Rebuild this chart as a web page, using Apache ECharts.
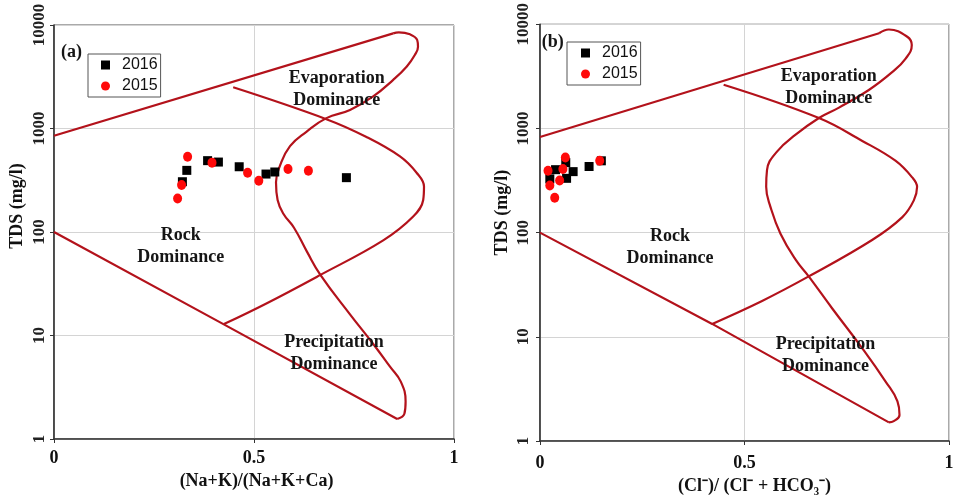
<!DOCTYPE html>
<html><head><meta charset="utf-8">
<script src="https://cdn.jsdelivr.net/npm/echarts@6/dist/echarts.min.js"></script>
<style>html,body{margin:0;padding:0;background:#fff}#c{width:959px;height:500px}</style>
</head><body><div id="c"></div>
<script>
// ---------- axis ticks ----------
const xMin = 0, xMax = 1, xInterval = 0.5;
const yMin = 1, yMax = 10000;

// ---------- panel (a): Gibbs boundary, [x, TDS] ----------
const aUpperLine = [[0, 850], [0.848, 8300]];
const aLoop = [[0.848, 8300], [0.862, 8500], [0.89, 8130], [0.908, 7160], [0.91, 6170], [0.902, 5130],
  [0.882, 3980], [0.848, 2950], [0.798, 2040], [0.74, 1510], [0.681, 1260], [0.631, 930], [0.59, 676],
  [0.565, 437], [0.555, 302], [0.559, 204], [0.573, 151], [0.60, 110], [0.632, 65], [0.666, 38.5],
  [0.74, 16], [0.80, 8.1], [0.84, 5.0], [0.867, 3.58], [0.879, 2.3], [0.876, 1.75], [0.858, 1.56]];
const aLowerLine = [[0, 100], [0.42, 13.1], [0.858, 1.56]];
const aInner = [[0.448, 2500], [0.681, 1230], [0.78, 832], [0.865, 537], [0.907, 372], [0.925, 275],
  [0.923, 204], [0.898, 141], [0.823, 83], [0.666, 38.5], [0.531, 20.4], [0.425, 12.9]];
const a2016 = [[0.332, 394], [0.321, 306], [0.384, 489], [0.411, 474], [0.463, 427], [0.530, 363], [0.552, 380], [0.731, 335]];
const a2015 = [[0.334, 534], [0.319, 284], [0.309, 211], [0.395, 468], [0.484, 374], [0.512, 313], [0.585, 406], [0.636, 391]];

// ---------- panel (b) ----------
const bUpperLine = [[0, 828], [0.829, 8200]];
const bLoop = [[0.829, 8200], [0.853, 8900], [0.898, 7590], [0.909, 6310], [0.894, 4680], [0.861, 3470],
  [0.804, 2340], [0.731, 1585], [0.682, 1260], [0.625, 871], [0.58, 603], [0.555, 398], [0.553, 275],
  [0.564, 174], [0.588, 97.7], [0.625, 55], [0.657, 38], [0.715, 18.6], [0.788, 7.76], [0.845, 3.72],
  [0.874, 2.4], [0.879, 1.78], [0.865, 1.55], [0.853, 1.51]];
const bLowerLine = [[0, 100], [0.421, 13.3], [0.853, 1.51]];
const bInner = [[0.449, 2630], [0.682, 1260], [0.788, 759], [0.869, 490], [0.91, 339], [0.922, 275],
  [0.914, 204], [0.886, 141], [0.812, 85], [0.657, 38], [0.543, 22.1], [0.421, 13.3]];
const b2016 = [[0.038, 402], [0.024, 328], [0.065, 332], [0.081, 385], [0.12, 431], [0.150, 489], [0.063, 470]];
const b2015 = [[0.062, 526], [0.0196, 393], [0.056, 408], [0.024, 283], [0.048, 316], [0.036, 216], [0.146, 489]];

// ---------- text ----------
const seriesNames = ['2016', '2015'];
const xNames = ['(Na+K)/(Na+K+Ca)', '(Cl\u207B)/ (Cl\u207B + HCO\u2083\u207B)'];
const yName = 'TDS (mg/l)';
const panelLabels = ['(a)', '(b)'];

const serif = "'Liberation Serif','Times New Roman',serif";
const sans = "'Liberation Sans',Arial,sans-serif";
const curveColor = '#b3121b';

function xAxis(idx, nameGap, namePad, labelMargin) {
  return {
    gridIndex: idx, type: 'value', min: xMin, max: xMax, interval: xInterval,
    name: xNames[idx], nameLocation: 'middle', nameGap: nameGap,
    nameTextStyle: { fontFamily: serif, fontWeight: 'bold', fontSize: 18, color: '#111', padding: namePad },
    axisLine: { show: true, onZero: false, lineStyle: { color: '#333', width: 1.6 } },
    axisTick: { show: true, length: 4, lineStyle: { color: '#333' } },
    axisLabel: { fontFamily: serif, fontWeight: 'bold', fontSize: 18, color: '#111', margin: labelMargin },
    splitLine: { show: true, lineStyle: { color: '#d4d4d4', width: 1 } }
  };
}
function yAxis(idx, nameGap, namePad, labelMargin) {
  return {
    gridIndex: idx, type: 'log', logBase: 10, min: yMin, max: yMax,
    name: yName, nameLocation: 'middle', nameGap: nameGap,
    nameTextStyle: { fontFamily: serif, fontWeight: 'bold', fontSize: 18, color: '#111', padding: namePad },
    axisLine: { show: true, onZero: false, lineStyle: { color: '#333', width: 1.6 } },
    axisTick: { show: true, length: 4, lineStyle: { color: '#333' } },
    axisLabel: { fontFamily: serif, fontWeight: 'bold', fontSize: 17, color: '#222', rotate: 90, margin: labelMargin,
      formatter: v => String(Math.round(v)) },
    splitLine: { show: true, lineStyle: { color: '#d4d4d4', width: 1 } },
    minorTick: { show: false }
  };
}
function lineSeries(idx, data, smooth) {
  return {
    type: 'line', xAxisIndex: idx, yAxisIndex: idx, data: data, showSymbol: false, symbol: 'none',
    smooth: smooth, lineStyle: { color: curveColor, width: 2.2 }, silent: true, z: 2
  };
}
function scatter(idx, name, data) {
  const is16 = name === '2016';
  return {
    type: 'scatter', name: name, xAxisIndex: idx, yAxisIndex: idx, data: data,
    symbol: is16 ? 'rect' : 'circle', symbolSize: is16 ? 9 : [9, 10],
    itemStyle: { color: is16 ? '#000' : '#ff0a0a', opacity: 1 }, z: is16 ? 3 : 4
  };
}
function legend(left, top, padLeft) {
  return {
    left: left, top: top, orient: 'vertical', itemWidth: 9, itemHeight: 9, itemGap: 5,
    padding: [3, 3, 3, padLeft], borderColor: '#555', borderWidth: 1, backgroundColor: '#fff',
    selectedMode: false,
    data: [{ name: seriesNames[0], icon: 'rect' }, { name: seriesNames[1], icon: 'circle' }],
    textStyle: { fontFamily: sans, fontSize: 16, color: '#111', padding: [0, 0, 0, 7] }
  };
}

const option = {
  animation: false,
  backgroundColor: '#fff',
  grid: [
    { left: 54, top: 25, width: 400, height: 414, show: true, borderColor: '#555', borderWidth: 1 },
    { left: 540, top: 22, width: 409, height: 421, show: true, borderColor: '#555', borderWidth: 1 }
  ],
  xAxis: [xAxis(0, 32, [0, 0, 0, 5], 10), xAxis(1, 36, [0, 0, 0, 20], 13)],
  yAxis: [yAxis(0, 28, [0, 0, 0, 52], 6), yAxis(1, 29, [0, 0, 0, 40], 8)],
  legend: [legend(88, 54, 13), legend(567, 42, 14)],
  series: [
    lineSeries(0, aUpperLine, false), lineSeries(0, aLoop, 0.45), lineSeries(0, aLowerLine, false), lineSeries(0, aInner, 0.4),
    scatter(0, '2016', a2016), scatter(0, '2015', a2015),
    lineSeries(1, bUpperLine, false), lineSeries(1, bLoop, 0.45), lineSeries(1, bLowerLine, false), lineSeries(1, bInner, 0.4),
    scatter(1, '2016', b2016), scatter(1, '2015', b2015)
  ]
};
const chart = echarts.init(document.getElementById('c'), null, { renderer: 'canvas' });
chart.setOption(option);

// region annotations, anchored in data coordinates
const notes = [
  { g: 0, at: [0.707, 2400], text: 'Evaporation\nDominance' },
  { g: 0, at: [0.317, 73], text: 'Rock\nDominance' },
  { g: 0, at: [0.70, 6.7], text: 'Precipitation\nDominance' },
  { g: 1, at: [0.706, 2500], text: 'Evaporation\nDominance' },
  { g: 1, at: [0.318, 73], text: 'Rock\nDominance' },
  { g: 1, at: [0.698, 6.6], text: 'Precipitation\nDominance' }
];
const graphics = notes.map(n => {
  const p = chart.convertToPixel({ gridIndex: n.g }, n.at);
  return { type: 'text', x: p[0], y: p[1], z: 10, silent: true,
    style: { text: n.text, fontFamily: serif, fontWeight: 'bold', fontSize: 18, lineHeight: 22,
      fill: '#151515', align: 'center', verticalAlign: 'middle' } };
});
const labelAt = [[0.044, 5400], [0.031, 6700]];
panelLabels.forEach((t, i) => {
  const p = chart.convertToPixel({ gridIndex: i }, labelAt[i]);
  graphics.push({ type: 'text', x: p[0], y: p[1], z: 10, silent: true,
    style: { text: t, fontFamily: serif, fontWeight: 'bold', fontSize: 18, fill: '#151515', align: 'center', verticalAlign: 'middle' } });
});
chart.setOption({ graphic: graphics });
</script></body></html>
